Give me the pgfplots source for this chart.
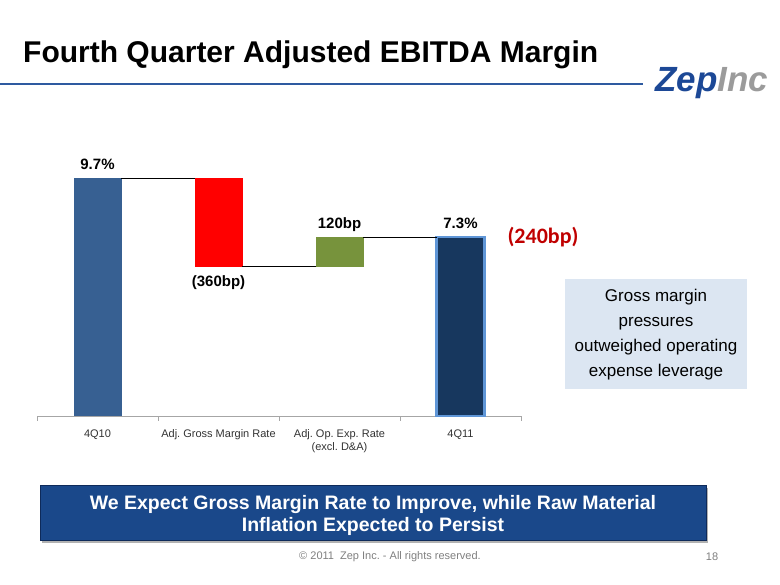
\documentclass[border=0pt]{standalone}
\usepackage{pgfplots}
\pgfplotsset{compat=1.18}
\usepackage{fontspec}
\setmainfont{Liberation Sans}
\newfontfamily\calibri{Carlito}
\frenchspacing

\definecolor{startbar}{RGB}{55,96,146}
\definecolor{downbar}{RGB}{255,0,0}
\definecolor{upbar}{RGB}{119,147,60}
\definecolor{endbar}{RGB}{23,55,94}
\definecolor{endedge}{RGB}{95,150,215}
\definecolor{rule}{RGB}{46,90,160}
\definecolor{zep}{RGB}{28,72,150}
\definecolor{inc}{RGB}{155,155,155}
\definecolor{boxfill}{RGB}{220,230,242}
\definecolor{banner}{RGB}{26,72,138}
\definecolor{banneredge}{RGB}{14,42,90}
\definecolor{delta}{RGB}{192,0,0}

% shared frame of the two overlaid axes
\pgfplotsset{waterfall frame/.style={
  at={(37pt,169pt)}, anchor=south west,
  scale only axis, width=484pt, height=294pt,
  xmin=-0.5, xmax=3.5, ymin=0, ymax=12,
  clip=false, bar width=48pt,
}}

\begin{document}
\begin{tikzpicture}[x=1pt,y=1pt]
\path[use as bounding box] (0,0) rectangle (780,585);
\fill[white] (0,0) rectangle (780,585);

% title, rule and logo
\node[anchor=base west, inner sep=0, font=\fontsize{30}{36}\selectfont\bfseries]
  at (23,522.5) {Fourth Quarter Adjusted EBITDA Margin};
\draw[rule, line width=1.5pt] (0,501) -- (643,501);
\node[anchor=base west, inner sep=0, font=\fontsize{35}{40}\selectfont\bfseries\itshape]
  at (655,493) {\textcolor{zep}{Zep}\textcolor{inc}{Inc}};

% floating bars
\begin{axis}[
  waterfall frame,
  ybar stacked,
  axis y line=none, axis x line*=bottom,
  x axis line style={draw=black!35, line width=0.8pt, -},
  xtick={-0.5,0.5,1.5,2.5,3.5}, xticklabels={},
  tick align=outside, major tick length=5pt,
  x tick style={draw=black!35, line width=0.8pt},
  extra x ticks={0,1,2,3},
  extra x tick labels={4Q10, Adj. Gross Margin Rate, {Adj. Op. Exp. Rate\\(excl. D\&A)}, 4Q11},
  extra x tick style={major tick length=0pt},
  xticklabel style={font=\fontsize{11}{13}\selectfont, text=black!80, align=center, yshift=-10pt},
]
\addplot[draw=none, fill=none] coordinates {(0,0) (1,6.1) (2,6.1) (3,0)};
\addplot[draw=none, fill=startbar] coordinates {(0,9.7) (1,0) (2,0) (3,0)};
\addplot[draw=none, fill=downbar] coordinates {(0,0) (1,3.6) (2,0) (3,0)};
\addplot[draw=none, fill=upbar] coordinates {(0,0) (1,0) (2,1.2) (3,0)};
\end{axis}

% end bar, connectors and value labels
\begin{axis}[waterfall frame, hide axis, ybar, bar shift=0pt]
\addplot[fill=endbar, draw=endedge, line width=2.5pt] coordinates {(3,7.3)};
\addplot[sharp plot, black, line width=1.2pt] coordinates {(0.198,9.7) (0.802,9.7)};
\addplot[sharp plot, black, line width=1.2pt] coordinates {(1.198,6.1) (1.802,6.1)};
\addplot[sharp plot, black, line width=1.2pt] coordinates {(2.198,7.3) (2.802,7.3)};
\addplot[sharp plot, draw=none, nodes near coords, point meta=explicit symbolic,
  nodes near coords style={font=\fontsize{15}{18}\selectfont\bfseries, anchor=base, yshift=9pt}]
  coordinates {(0,9.7) [9.7\%] (2,7.3) [120bp] (3,7.3) [7.3\%]};
\addplot[sharp plot, draw=none, nodes near coords, point meta=explicit symbolic,
  nodes near coords style={font=\fontsize{15}{18}\selectfont\bfseries, anchor=north, yshift=-6pt}]
  coordinates {(1,6.1) [(360bp)]};
\end{axis}

\node[text=delta, font=\fontsize{22}{26}\selectfont\calibri\bfseries] at (543,348) {(240bp)};

% side note
\fill[boxfill] (565,196) rectangle (747,306);
\node[align=center, font=\fontsize{17}{25}\selectfont] at (656,250)
  {Gross margin\\pressures\\outweighed operating\\expense leverage};

% banner
\fill[black!30] (42,42) rectangle (708,97);
\fill[banner, draw=banneredge, line width=1pt] (40,44) rectangle (706,99);
\node[align=center, text=white, font=\fontsize{19.5}{22}\selectfont\bfseries] at (373,70)
  {We Expect Gross Margin Rate to Improve, while Raw Material\\Inflation Expected to Persist};

% footer
\node[text=black!50, font=\fontsize{11}{13}\selectfont] at (390,28) {\textcopyright{} 2011\ \ Zep Inc. - All rights reserved.};
\node[text=black!50, font=\fontsize{11}{13}\selectfont] at (712,28) {18};
\end{tikzpicture}
\end{document}
